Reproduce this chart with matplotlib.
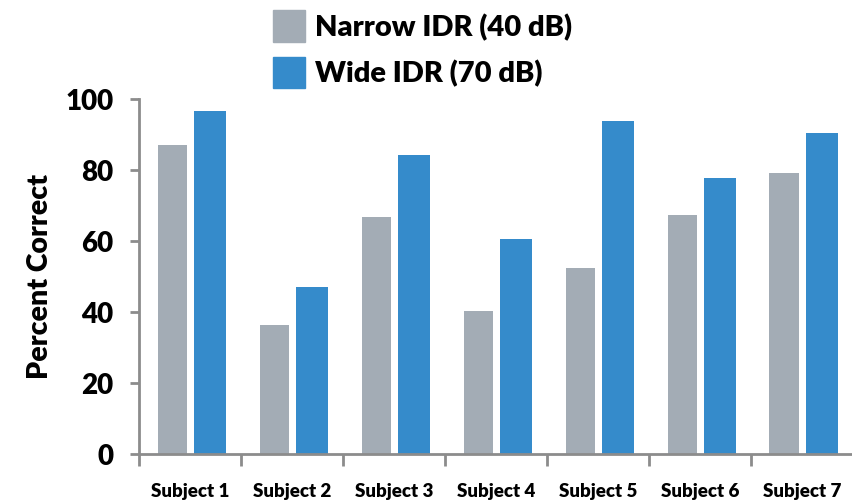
import numpy as np
import matplotlib.pyplot as plt
from matplotlib.patches import Patch

# data
subjects = ['Subject 1', 'Subject 2', 'Subject 3', 'Subject 4',
            'Subject 5', 'Subject 6', 'Subject 7']
narrow_idr = [87, 36.3, 66.8, 40.3, 52.6, 67.3, 79.3]
wide_idr = [96.6, 47, 84.2, 60.6, 93.8, 77.7, 90.6]
series_names = ['Narrow IDR (40 dB)', 'Wide IDR (70 dB)']
y_ticks = [0, 20, 40, 60, 80, 100]

gray = '#A3ACB5'
blue = '#358BCB'
spine_col = '#8C8C8C'

plt.rcParams['font.family'] = ['Lato', 'DejaVu Sans']

fig = plt.figure(figsize=(8.53, 5.04), dpi=100)
ax = fig.add_axes([0.1632, 0.0986, 0.8368, 0.7044])

x = np.arange(len(subjects))
ax.bar(x - 0.174, narrow_idr, width=0.29, color=gray)
ax.bar(x + 0.193, wide_idr, width=0.31, color=blue)

ax.set_xlim(-0.5, 6.39)
ax.set_ylim(0, 100)
ax.set_yticks(y_ticks)
ax.set_yticklabels([str(v) for v in y_ticks], fontsize=20, fontweight='heavy')

# labels at group centres, tick marks at group boundaries
ax.set_xticks(x)
ax.set_xticklabels(subjects, fontsize=13.5, fontweight='heavy')
ax.set_xticks(np.arange(-0.5, 7, 1), minor=True)
ax.tick_params(axis='x', which='major', length=0, pad=21)
ax.tick_params(axis='x', which='minor', length=8.5, width=2, color=spine_col)
ax.tick_params(axis='y', length=6.5, width=2, color=spine_col, pad=12)

for s in ['top', 'right']:
    ax.spines[s].set_visible(False)
for s in ['left', 'bottom']:
    ax.spines[s].set_color(spine_col)
    ax.spines[s].set_linewidth(2)

ax.set_ylabel('Percent Correct', fontsize=20.5, fontweight='heavy', labelpad=9)

handles = [Patch(color=gray), Patch(color=blue)]
leg = fig.legend(handles, series_names, loc='upper left',
                 bbox_to_anchor=(0.308, 1.0), frameon=False,
                 prop={'size': 21, 'weight': 'heavy'},
                 handlelength=1.1, handleheight=1.3, handletextpad=0.35,
                 labelspacing=0.5, borderaxespad=0, borderpad=0.35)

fig.savefig('out.png', dpi=100)
